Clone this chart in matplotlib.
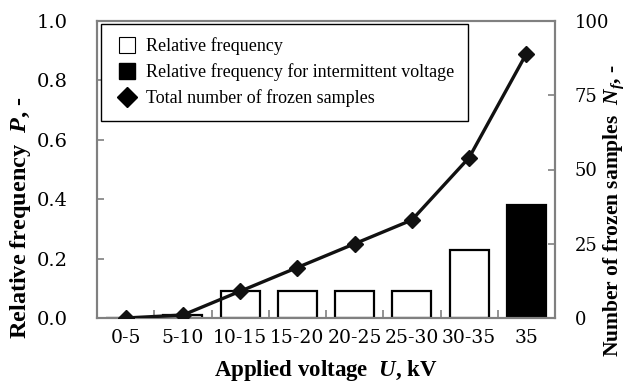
import matplotlib.pyplot as plt
from matplotlib.lines import Line2D

categories = ['0-5', '5-10', '10-15', '15-20', '20-25', '25-30', '30-35', '35']
rel_freq = [0.0, 0.01, 0.09, 0.09, 0.09, 0.09, 0.23, 0.38]
intermittent = [False, False, False, False, False, False, False, True]
n_frozen = [0, 1, 9, 17, 25, 33, 54, 89]

plt.rcParams['font.family'] = 'Liberation Serif'
plt.rcParams['mathtext.fontset'] = 'custom'
plt.rcParams['mathtext.it'] = 'Liberation Serif:italic:bold'
plt.rcParams['mathtext.rm'] = 'Liberation Serif:bold'

ytick_font = {'family': 'DejaVu Serif', 'size': 14}
xtick_font = {'family': 'DejaVu Serif', 'size': 13.5}
spine_col = '#808080'

fig = plt.figure(figsize=(6.27, 3.82), dpi=100)
ax = fig.add_axes([97 / 627, 1 - 318 / 382, 458 / 627, 297 / 382])
x = list(range(len(categories)))

colors = ['black' if f else 'white' for f in intermittent]
ax.bar(x, rel_freq, width=0.68, color=colors, edgecolor='black', linewidth=1.6, zorder=2)
ax.set_xlim(-0.5, len(categories) - 0.5)
ax.set_ylim(0, 1.0)
ax.set_yticks([0, 0.2, 0.4, 0.6, 0.8, 1.0])
ax.set_yticklabels(['0.0', '0.2', '0.4', '0.6', '0.8', '1.0'], fontdict=ytick_font)
ax.set_xticks(x)
ax.set_xticklabels(categories, fontdict=xtick_font)
ax.set_xticks([i + 0.5 for i in x[:-1]], minor=True)
ax.tick_params(axis='x', which='major', length=0, pad=8)
ax.tick_params(axis='x', which='minor', direction='in', length=6, color=spine_col, width=1.2)
ax.tick_params(axis='y', direction='in', length=5, color=spine_col, width=1.2, pad=21)
for s in ax.spines.values():
    s.set_color(spine_col)
    s.set_linewidth(1.5)

ax.set_xlabel(r'Applied voltage  $U$, kV', fontsize=16.5, fontweight='bold', labelpad=8)
ax.set_ylabel(r'Relative frequency  $P$, -', fontsize=17.5, fontweight='bold')
ax.yaxis.set_label_coords(-0.14, 0.337)

ax2 = ax.twinx()
ax2.plot(x, n_frozen, color='#111111', linewidth=2.4, marker='D', markersize=8, zorder=3)
ax2.set_ylim(0, 100)
ax2.set_yticks([0, 25, 50, 75, 100])
ax2.set_yticklabels(['0', '25', '50', '75', '100'], fontdict={'family': 'DejaVu Serif', 'size': 13})
ax2.tick_params(axis='y', direction='in', length=5, color=spine_col, width=1.2, pad=14)
for s in ax2.spines.values():
    s.set_color(spine_col)
    s.set_linewidth(1.5)
ax2.set_ylabel(r'Number of frozen samples  $N_f$, -', fontsize=15.5, fontweight='bold')
ax2.yaxis.set_label_coords(1.102, 0.36)

handles = [
    Line2D([], [], linestyle='none', marker='s', markersize=11, markerfacecolor='white',
           markeredgecolor='black', markeredgewidth=0.8),
    Line2D([], [], linestyle='none', marker='s', markersize=11, markerfacecolor='black',
           markeredgecolor='black'),
    Line2D([], [], linestyle='none', marker='D', markersize=10, color='black'),
]
labels = ['Relative frequency', 'Relative frequency for intermittent voltage',
          'Total number of frozen samples']
leg = ax2.legend(handles, labels, loc='upper left', bbox_to_anchor=(0.009, 0.99),
                 prop={'family': 'Liberation Serif', 'size': 13}, frameon=True,
                 fancybox=False, edgecolor='black', framealpha=1, handlelength=1.4,
                 handletextpad=0.35, labelspacing=0.45, borderpad=0.75, borderaxespad=0)
leg.get_frame().set_linewidth(1.0)

fig.savefig('out.png', dpi=100)
